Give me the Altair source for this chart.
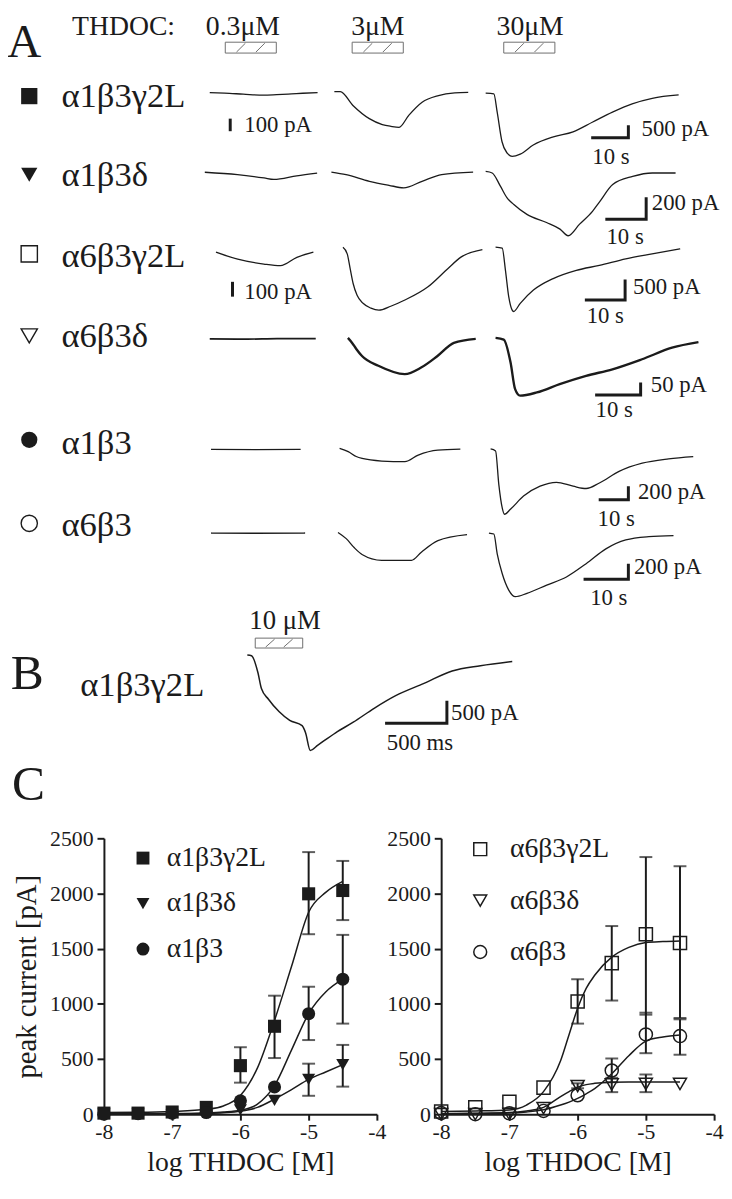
import altair as alt
import pandas as pd

INK = "#1b1b1b"
BOXC = "#6e6e6e"
SERIF = "Liberation Serif"
W, H = 724, 1178


def P(v):
    """page pixel -> chart pixel (page has an 8px margin)"""
    return round(v - 8, 2)


# ======================= DATA =======================
panel_letters = ["A", "B", "C"]
thdoc_label = "THDOC:"
conc_labels = ["0.3μM", "3μM", "30μM"]
b_conc_label = "10 μM"
receptors = ["α1β3γ2L", "α1β3δ", "α6β3γ2L", "α6β3δ", "α1β3", "α6β3"]
b_receptor = "α1β3γ2L"

# ---- Panel A traces: time [s], current [pA] ----
r1c1_t = [0, 4, 9, 14.4, 18, 22, 25, 29]
r1c1_i = [0, -4, -12, -20, -16, -10, -5, 0]
r1c2_t = [0, 1.6, 5.0, 9.4, 12.9, 15.2, 17.4, 20.0, 23.6, 28.0, 32.4, 36.0]
r1c2_i = [0, 0, -550, -1075, -1310, -1380, -1420, -945, -420, -155, -50, -30]
r1c3_t = [0, 2.2, 3.1, 4.4, 5.8, 7.1, 9.3, 12.8, 18.2, 23.5, 28.8, 34.1, 39.4, 44.8, 51.9]
r1c3_i = [0, -30, -755, -1935, -2390, -2520, -2430, -2065, -1740, -1540, -1150, -755, -425, -205, -70]

r2c1_t = [0, 8.0, 14.5, 16.9, 22.5, 27.5]
r2c1_i = [0, -22, -52, -65, -32, -7]
r2c2_t = [0, 3.6, 9.3, 14.1, 17.7, 22.2, 27.0, 34.7]
r2c2_i = [0, -24, -84, -120, -143, -84, -24, 0]
r2c3_t = [0, 1.6, 3.6, 5.2, 6.9, 10.1, 14.9, 18.2, 20.2, 23.0, 26.2, 27.8, 31.1, 36.0, 40.8, 46.5]
r2c3_i = [0, -14, -133, -237, -299, -389, -463, -523, -583, -478, -359, -280, -119, -45, -14, -14]

r3c1_t = [0, 5.4, 11.9, 16.0, 20.1, 24.2]
r3c1_i = [0, -47, -80, -91, -35, 0]
r3c2_t = [0, 1.06, 1.79, 2.53, 3.51, 4.99, 6.95, 8.92, 11.87, 15.38, 21.13, 26.04, 29.31, 34.64]
r3c2_i = [0, -162, -524, -886, -1176, -1370, -1490, -1539, -1442, -1290, -966, -524, -242, -58]
r3c3_t = [0, 1.65, 2.46, 3.27, 4.10, 4.49, 6.14, 9.41, 14.32, 20.07, 25.8, 32.35, 38.9, 45.87]
r3c3_i = [0, -24, -565, -1208, -1531, -1570, -1370, -1048, -766, -565, -444, -283, -162, -41]

r4c1_t = [0, 8.3, 14.8, 23.3]
r4c1_i = [0, -1, 1, 1]
r4c2_t = [0, 0.93, 1.8, 3.1, 6.7, 12.5, 16.1, 19.7, 23.3, 28.1]
r4c2_i = [0, -20, -43, -72, -111, -144, -118, -72, -20, -4]
r4c3_t = [0, 1.8, 3.3, 4.3, 5.4, 9.1, 14.1, 19.9, 25.7, 32.2, 38.8, 44.6]
r4c3_i = [0, -7, -98, -204, -230, -217, -184, -151, -125, -85, -39, -17]

r5c1_t = [0, 15, 30.2]
r5c1_i = [0, -5, 0]
r5c2_t = [0, 2.9, 5.6, 7.6, 14.2, 22.0, 26.5, 33.1, 40.7]
r5c2_i = [0, -48, -120, -149, -187, -197, -99, -26, -12]
r5c3_t = [0, 1.67, 2.77, 3.9, 4.67, 6.67, 11.1, 16.67, 22.2, 27.8, 32.2, 36.67, 43.3, 51.1, 60, 68.3]
r5c3_i = [0, -29, -526, -867, -964, -891, -696, -550, -492, -550, -584, -502, -331, -210, -146, -112]

r6c1_t = [0, 10, 21.0]
r6c1_i = [0, -3, 0]
r6c2_t = [0, 1.83, 3.6, 5.36, 9.78, 16.4, 18.6, 22.3, 28.8]
r6c2_i = [0, -80, -195, -284, -360, -360, -255, -106, -29]
r6c3_t = [0, 1.1, 1.85, 2.96, 4.42, 5.9, 8.48, 12.9, 17.3, 21.7, 26.1, 30.55, 35.7, 41.2]
r6c3_i = [0, -13, -268, -522, -735, -820, -777, -671, -566, -395, -204, -89, -47, -34]

# ---- Panel B trace: time [ms], current [pA] ----
b_t = [0, 34, 86, 114, 171, 256, 343, 443, 471, 509, 571, 714, 857, 1029, 1200, 1429, 1657, 1886, 2143]
b_i = [0, -15, -396, -750, -989, -1265, -1462, -1580, -1739, -2133, -2015, -1739, -1502, -1186, -909, -633, -356, -237, -142]

# ---- scale bars ----
bar_time_s = [10, 10, 10, 10, 10, 10]
bar_amp_pA = [500, 200, 500, 50, 200, 200]
bar_amp_labels = ["500 pA", "200 pA", "500 pA", "50 pA", "200 pA", "200 pA"]
bar_time_label = "10 s"
small_bar_pA = [100, 100]
small_bar_labels = ["100 pA", "100 pA"]
b_bar = [500, 500]  # ms, pA
b_bar_labels = ["500 pA", "500 ms"]

# ---- Panel C: dose response ----
log_conc = [-8, -7.5, -7, -6.5, -6, -5.5, -5, -4.5]
left_names = ["α1β3γ2L", "α1β3δ", "α1β3"]
right_names = ["α6β3γ2L", "α6β3δ", "α6β3"]

a1b3g2_mean = [10, 10, 20, 62, 440, 797, 1997, 2027]
a1b3d_mean = [0, 0, -5, 5, 40, 125, 315, 449]
a1b3_mean = [0, 5, 10, 15, 122, 247, 911, 1223]
a6b3g2_mean = [24, 62, 113, 241, 1021, 1369, 1631, 1551]
a6b3d_mean = [0, 0, 0, 55, 255, 270, 275, 275]
a6b3_mean = [10, 0, 8, 30, 172, 396, 723, 708]

a1b3g2_err_x = [-6, -5.5, -5, -4.5]
a1b3g2_err_lo = [286, 509, 1631, 1759]
a1b3g2_err_hi = [607, 1074, 2375, 2295]
a1b3_err_x = [-5, -4.5]
a1b3_err_lo = [672, 821]
a1b3_err_hi = [1155, 1625]
a1b3d_err_x = [-5, -4.5]
a1b3d_err_lo = [167, 250]
a1b3d_err_hi = [458, 628]

a6b3g2_err_x = [-6, -5.5, -5, -4.5]
a6b3g2_err_lo = [821, 1030, 902, 872]
a6b3g2_err_hi = [1223, 1705, 2330, 2247]
a6b3d_err_x = [-6, -5.5, -5]
a6b3d_err_lo = [235, 200, 200]
a6b3d_err_hi = [280, 330, 360]
a6b3_err_x = [-5.5, -5, -4.5]
a6b3_err_lo = [290, 553, 539]
a6b3_err_hi = [505, 920, 860]

fit_left_x = [-8, -7.5, -7, -6.5, -6.25, -6, -5.75, -5.5, -5.25, -5, -4.75, -4.5]
fit_a1b3g2 = [15, 17, 25, 45, 75, 170, 420, 850, 1340, 1830, 2010, 2110]
fit_a1b3 = [5, 5, 6, 12, 20, 36, 92, 259, 583, 911, 1107, 1223]
fit_a1b3d = [2, 2, 3, 8, 14, 27, 62, 137, 223, 315, 383, 449]

fit_right_x = [-8, -7.5, -7, -6.75, -6.5, -6.25, -6.125, -6, -5.875, -5.75, -5.5, -5.25, -5, -4.75, -4.5]
fit_a6b3g2 = [25, 30, 39, 83, 205, 485, 723, 961, 1140, 1259, 1423, 1512, 1556, 1565, 1570]
fit_a6b3d = [5, 8, 15, 30, 62, 160, 205, 245, 268, 280, 290, 292, 292, 292, 292]
fit_a6b3 = [5, 6, 10, 20, 40, 83, 110, 143, 185, 232, 366, 530, 663, 700, 717]

# ======================= LAYOUT (page pixels) =======================
ROW_K = [3.76, 4.13, 4.07, 4.6, 3.0, 4.53]            # px per second
CELL_Q = [[0.127, 0.0254, 0.0254], [0.1115] * 3, [0.15, 0.0414, 0.0414],
          [0.254] * 3, [0.0685] * 3, [0.0785] * 3]      # px per pA
CELL_O = [[(212, 87), (338, 86), (491, 87.5)],
          [(207, 167.5), (335, 167.3), (491, 166.7)],
          [(218.3, 248.3), (346.7, 243.3), (501, 243.3)],
          [(212, 336), (351.7, 335), (501, 335)],
          [(213.3, 447.7), (343.3, 446.7), (496, 447.3)],
          [(213.3, 532.3), (341.7, 531.7), (494.3, 532.3)]]
BAR_O = [(597.7, 132.7), (612, 215), (591.3, 296.7), (601.7, 392.7), (605.3, 498.7), (590, 579)]
AMP_LAB = [(648.7, 124), (659, 199), (640, 283.3), (658, 382.7), (645, 490.7), (641, 566.7)]
TIME_LAB = [(617.7, 151.7), (632, 233), (612, 313.3), (621, 408), (623, 518.3), (615.5, 598.3)]
SMALL_BAR = [(0, 232.7, 126), (2, 235, 293.3)]
SMALL_LAB = [(247, 120), (247, 288.3)]
ROW_LAB_Y = [90.5, 170, 252, 333, 441, 524]
ROW_SYM_Y = [90.5, 170, 250, 333, 438, 522.5]
ROW_SHAPE = [("square", True), ("triangle-down", True), ("square", False),
             ("triangle-down", False), ("circle", True), ("circle", False)]
ROW_STROKE = [1.3, 1.3, 1.3, 2.4, 1.3, 1.3]

traces = [[(r1c1_t, r1c1_i), (r1c2_t, r1c2_i), (r1c3_t, r1c3_i)],
          [(r2c1_t, r2c1_i), (r2c2_t, r2c2_i), (r2c3_t, r2c3_i)],
          [(r3c1_t, r3c1_i), (r3c2_t, r3c2_i), (r3c3_t, r3c3_i)],
          [(r4c1_t, r4c1_i), (r4c2_t, r4c2_i), (r4c3_t, r4c3_i)],
          [(r5c1_t, r5c1_i), (r5c2_t, r5c2_i), (r5c3_t, r5c3_i)],
          [(r6c1_t, r6c1_i), (r6c2_t, r6c2_i), (r6c3_t, r6c3_i)]]


def lin(d, r):
    return alt.Scale(domain=d, range=r, nice=False, zero=False)


def text_layer(s, x, y, size, align="left", baseline="middle"):
    df = pd.DataFrame({"s": [s]})
    return alt.Chart(df).mark_text(font=SERIF, fontSize=size, align=align,
                                   baseline=baseline, color=INK).encode(
        x=alt.value(P(x)), y=alt.value(P(y)), text="s:N")


def trace_layer(t, i, x0, y0, k, q, sw=1.3):
    df = pd.DataFrame({"t": t, "i": i, "n": list(range(len(t)))})
    return alt.Chart(df).mark_line(color=INK, strokeWidth=sw, interpolate="monotone",
                                   strokeJoin="round").encode(
        x=alt.X("t:Q", scale=lin([0, 1], [P(x0), P(x0) + k]), axis=None),
        y=alt.Y("i:Q", scale=lin([0, 1], [P(y0), P(y0) - q]), axis=None),
        order="n:Q")


def bar_layer(dt, da, x0, y0, k, q):
    if dt:
        t, i = [0, dt, dt], [0, 0, da]
    else:
        t, i = [0, 0], [0, da]
    df = pd.DataFrame({"t": t, "i": i, "n": list(range(len(t)))})
    return alt.Chart(df).mark_line(color=INK, strokeWidth=3, strokeCap="butt",
                                   strokeJoin="miter").encode(
        x=alt.X("t:Q", scale=lin([0, 1], [P(x0), P(x0) + k]), axis=None),
        y=alt.Y("i:Q", scale=lin([0, 1], [P(y0), P(y0) - q]), axis=None),
        order="n:Q")


def box_layers(label, x1, x2, y1, y2):
    df = pd.DataFrame({"s": [label]})
    out = [alt.Chart(df).mark_rect(fill="white", stroke=BOXC, strokeWidth=1).encode(
        x=alt.value(P(x1)), x2=alt.value(P(x2)), y=alt.value(P(y1)), y2=alt.value(P(y2)))]
    w = x2 - x1
    for f in (0.22, 0.6):
        xa = x1 + w * f
        out.append(alt.Chart(df).mark_rule(color=BOXC, strokeWidth=1).encode(
            x=alt.value(P(xa)), x2=alt.value(P(xa + 9)),
            y=alt.value(P(y2 - 1)), y2=alt.value(P(y1 + 1))))
    return out


layers = []

# ---------- Panel A header ----------
layers.append(text_layer(panel_letters[0], 7, 51, 48, baseline="alphabetic"))
layers.append(text_layer(thdoc_label, 72.7, 28.3, 28, baseline="alphabetic"))
for lab, xl, (bx1, bx2) in zip(conc_labels, [208, 355, 502],
                               [(227.7, 279.3), (356, 407.7), (509.3, 561)]):
    layers.append(text_layer(lab, xl, 28.3, 28, baseline="alphabetic"))
    layers += box_layers(lab, bx1, bx2, 36, 47)

# ---------- Panel A rows ----------
for r in range(6):
    shp, fil = ROW_SHAPE[r]
    layers.append(alt.Chart(pd.DataFrame({"s": [receptors[r]]})).mark_point(
        shape=shp, filled=fil, size=270, color=INK, opacity=1, strokeWidth=1.4).encode(
        x=alt.value(P(29.5)), y=alt.value(P(ROW_SYM_Y[r]))))
    layers.append(text_layer(receptors[r], 62, ROW_LAB_Y[r], 35))
    for c in range(3):
        t, i = traces[r][c]
        x0, y0 = CELL_O[r][c]
        sw = ROW_STROKE[r] if c > 0 else min(ROW_STROKE[r], 1.7)
        layers.append(trace_layer(t, i, x0, y0, ROW_K[r], CELL_Q[r][c], sw))
    bx, by = BAR_O[r]
    layers.append(bar_layer(bar_time_s[r], bar_amp_pA[r], bx, by, ROW_K[r], CELL_Q[r][2]))
    layers.append(text_layer(bar_amp_labels[r], AMP_LAB[r][0], AMP_LAB[r][1], 23))
    layers.append(text_layer(bar_time_label, TIME_LAB[r][0], TIME_LAB[r][1], 23, align="center"))

for j, (r, sx, sy) in enumerate(SMALL_BAR):
    layers.append(bar_layer(0, small_bar_pA[j], sx, sy, ROW_K[r], CELL_Q[r][0]))
    layers.append(text_layer(small_bar_labels[j], SMALL_LAB[j][0], SMALL_LAB[j][1], 23))

# ---------- Panel B ----------
layers.append(text_layer(panel_letters[1], 10.7, 690, 50, baseline="alphabetic"))
layers.append(text_layer(b_receptor, 81, 686, 35))
layers.append(text_layer(b_conc_label, 252, 629, 27, baseline="alphabetic"))
layers += box_layers(b_conc_label, 258, 306, 638.6, 648.6)
layers.append(trace_layer(b_t, b_i, 250, 655.7, 0.125, 0.0452, 1.5))
layers.append(bar_layer(b_bar[0], b_bar[1], 389.3, 724.6, 0.125, 0.0452))
layers.append(text_layer(b_bar_labels[0], 456, 714.6, 23))
layers.append(text_layer(b_bar_labels[1], 391, 745, 23))

# ---------- Panel C ----------
layers.append(text_layer(panel_letters[2], 12, 802, 50, baseline="alphabetic"))

C_TOP, C_BOT = 841, 1120
cy = lin([0, 2500], [P(C_BOT), P(C_TOP)])
cx_left = lin([-8, -4], [P(105), P(381)])
cx_right = lin([-8, -4], [P(446), P(722)])


def y_axis(xpage, title):
    kw = dict(orient="left", offset=-P(xpage), values=[0, 500, 1000, 1500, 2000, 2500],
              format="d", grid=False, tickSize=7, tickWidth=2, domainWidth=2,
              tickColor=INK, domainColor=INK, labelColor=INK, labelFont=SERIF,
              labelFontSize=22, labelPadding=4)
    if title:
        kw.update(title=title, titleFont=SERIF, titleFontSize=29, titleFontWeight="normal",
                  titleColor=INK, titleX=-63)
    else:
        kw.update(title=None)
    return alt.Axis(**kw)


def x_axis():
    return alt.Axis(orient="bottom", offset=P(C_BOT) - H, values=[-8, -7, -6, -5, -4],
                    labelExpr="'' + datum.value", grid=False, tickSize=6, tickWidth=2,
                    domainWidth=2, tickColor=INK, domainColor=INK, labelColor=INK,
                    labelFont=SERIF, labelFontSize=22, labelPadding=2, labelFlush=False,
                    title="log THDOC [M]", titleFont=SERIF, titleFontSize=28,
                    titleFontWeight="normal", titleColor=INK, titlePadding=6)


def c_panel(names, means, errs, fit_x, fits, sx, ypage_axis, ytitle, filled, leg_xy,
            row_pad, lab_off):
    out = []
    fdf = pd.DataFrame({"x": fit_x * len(fits),
                        "v": sum(fits, []),
                        "rec": sum([[n] * len(fit_x) for n in names], [])})
    out.append(alt.Chart(fdf).mark_line(color=INK, strokeWidth=1.5, interpolate="monotone").encode(
        x=alt.X("x:Q", scale=sx, axis=x_axis()),
        y=alt.Y("v:Q", scale=cy, axis=y_axis(ypage_axis, ytitle)),
        detail="rec:N"))
    ex, elo, ehi = [], [], []
    for (xs, lo, hi) in errs:
        ex += xs
        elo += lo
        ehi += hi
    edf = pd.DataFrame({"x": ex, "lo": elo, "hi": ehi})
    out.append(alt.Chart(edf).mark_rule(color=INK, strokeWidth=2).encode(
        x=alt.X("x:Q", scale=sx, axis=None),
        y=alt.Y("lo:Q", scale=cy, axis=None), y2="hi:Q"))
    cdf = pd.DataFrame({"x": ex + ex, "v": elo + ehi})
    out.append(alt.Chart(cdf).mark_tick(color=INK, thickness=2, size=13, orient="horizontal").encode(
        x=alt.X("x:Q", scale=sx, axis=None),
        y=alt.Y("v:Q", scale=cy, axis=None)))
    mdf = pd.DataFrame({"x": log_conc * 3, "v": sum(means, []),
                        "rec": sum([[n] * len(log_conc) for n in names], [])})
    leg = alt.Legend(orient="none", legendX=P(leg_xy[0]), legendY=P(leg_xy[1]), title=None,
                     labelFont=SERIF, labelFontSize=28, labelColor=INK, labelLimit=0,
                     symbolSize=170, symbolStrokeColor=INK, symbolStrokeWidth=1.5,
                     symbolFillColor=INK if filled else "white",
                     labelOffset=lab_off, rowPadding=row_pad, padding=0)
    out.append(alt.Chart(mdf).mark_point(filled=filled, color=INK, opacity=1, size=175,
                                         strokeWidth=1.5).encode(
        x=alt.X("x:Q", scale=sx, axis=None),
        y=alt.Y("v:Q", scale=cy, axis=None),
        shape=alt.Shape("rec:N", scale=alt.Scale(domain=names,
                                                 range=["square", "triangle-down", "circle"]),
                        legend=leg)))
    return out


layers += c_panel(left_names, [a1b3g2_mean, a1b3d_mean, a1b3_mean],
                  [(a1b3g2_err_x, a1b3g2_err_lo, a1b3g2_err_hi),
                   (a1b3_err_x, a1b3_err_lo, a1b3_err_hi),
                   (a1b3d_err_x, a1b3d_err_lo, a1b3d_err_hi)],
                  fit_left_x, [fit_a1b3g2, fit_a1b3d, fit_a1b3], cx_left, 105,
                  "peak current [pA]", True, (130.5, 847), 18, 10)
layers += c_panel(right_names, [a6b3g2_mean, a6b3d_mean, a6b3_mean],
                  [(a6b3g2_err_x, a6b3g2_err_lo, a6b3g2_err_hi),
                   (a6b3d_err_x, a6b3d_err_lo, a6b3d_err_hi),
                   (a6b3_err_x, a6b3_err_lo, a6b3_err_hi)],
                  fit_right_x, [fit_a6b3g2, fit_a6b3d, fit_a6b3], cx_right, 446,
                  None, False, (471.5, 838), 24, 16)

chart = alt.layer(*layers).resolve_scale(
    x="independent", y="independent", shape="independent"
).properties(
    width=W, height=H, autosize=alt.AutoSizeParams(type="none"), padding=0,
    background="white"
).configure_view(stroke=None)

chart.save("out.html", embed_options={"renderer": "svg", "actions": False})
